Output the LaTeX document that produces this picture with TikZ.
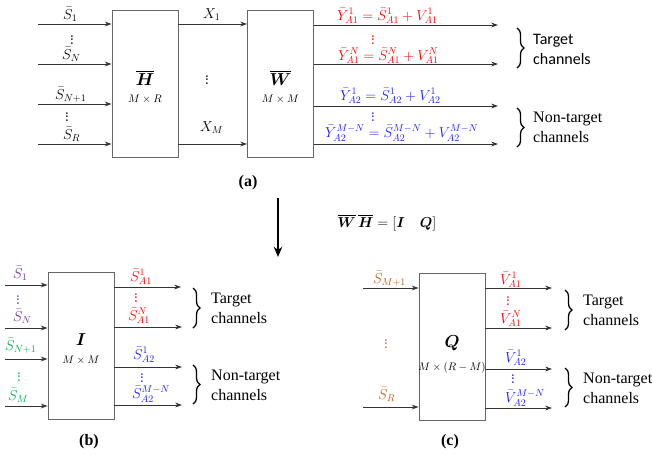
\documentclass[tikz,border=0pt]{standalone}
\usepackage{amsmath,amssymb}
\usepackage{fontspec}
\newfontfamily\calfont{Carlito}
\newfontfamily\tnrfont{Liberation Serif}
\usepackage{tikz}
\usetikzlibrary{arrows.meta,decorations.pathreplacing}
\definecolor{tgt}{HTML}{FF0000}
\definecolor{ntg}{HTML}{1C1CFF}
\definecolor{srcA}{HTML}{7030A0}
\definecolor{srcB}{HTML}{00B050}
\definecolor{srcC}{HTML}{C55A11}
\newcommand{\mtx}[1]{\boldsymbol{#1}}
\newcommand{\Sbar}{\bar{S}}
\newcommand{\Ybar}{\bar{Y}}
\newcommand{\Vbar}{\bar{V}}
% three stacked dots, no extra space above them
\newcommand{\vdotz}{\vbox{\baselineskip3.6pt\lineskiplimit0pt\hbox{.}\hbox{.}\hbox{.}}}
\tikzset{
  sigarr/.style   = {-{Stealth[length=2.4mm,width=1.7mm]},line width=1pt,black!80},
  mtxbox/.style   = {draw,black!60,line width=0.9pt,minimum width=66pt,minimum height=147pt,inner sep=0pt},
  mlab/.style     = {anchor=base west,inner sep=0pt,font=\fontsize{14}{16}\selectfont},
  dotlab/.style   = {inner sep=0pt,font=\bfseries\fontsize{12}{14}\selectfont},
  boxname/.style  = {inner sep=0pt,font=\fontsize{16}{18}\selectfont},
  dimlab/.style   = {inner sep=0pt,font=\fontsize{11}{13}\selectfont},
  grpbrace/.style = {decorate,decoration={brace,amplitude=7pt},line width=1.3pt},
  grptext/.style  = {anchor=west,align=left,inner sep=0pt,font=\tnrfont\fontsize{16}{20}\selectfont},
  subcap/.style   = {inner sep=0pt,font=\tnrfont\bfseries\fontsize{16}{18}\selectfont}
}

\begin{document}
\begin{tikzpicture}[x=1pt,y=-1pt]
  \useasboundingbox (0,0) rectangle (652,456);
  % (a) the whole chain: sources -> H -> W -> outputs
  \node[mtxbox] (H) at (145,84)   {};
  \node[mtxbox] (W) at (280.5,84) {};
  \node[boxname] (Hn) at (145,78) {$\overline{\mtx{H}}$};
  \node[dimlab]  (Hd) at (145,99) {$M\times R$};
  \node[boxname] (Wn) at (280.5,78) {$\overline{\mtx{W}}$};
  \node[dimlab]  (Wd) at (280.5,99) {$M\times M$};
  \coordinate (ha1) at (38,24);
  \coordinate (ha2) at (38,64);
  \coordinate (ha3) at (38,104);
  \coordinate (ha4) at (38,144);
  \draw[sigarr] (ha1) -- (ha1 -| H.west);
  \draw[sigarr] (ha2) -- (ha2 -| H.west);
  \draw[sigarr] (ha3) -- (ha3 -| H.west);
  \draw[sigarr] (ha4) -- (ha4 -| H.west);
  \node[mlab]   (sa1)  at (63,19)  {$\Sbar_1$};
  \node[dotlab] (sad1) at (72,40)  {\vdotz};
  \node[mlab]   (saN)  at (62,59)  {$\Sbar_N$};
  \node[mlab]   (saN1) at (55,99)  {$\Sbar_{N+1}$};
  \node[dotlab] (sad2) at (67,117) {\vdotz};
  \node[mlab]   (saR)  at (63,139) {$\Sbar_R$};
  \draw[sigarr] (H.east |- ha1) -- (W.west |- ha1);
  \draw[sigarr] (H.east |- ha4) -- (W.west |- ha4);
  \node[mlab]   (x1) at (203,18)  {$X_1$};
  \node[dotlab] (xd) at (207,80)  {\vdotz};
  \node[mlab]   (xM) at (200,131) {$X_M$};
  \coordinate (wa1) at (498,25);
  \coordinate (wa2) at (498,64);
  \coordinate (wa3) at (498,106);
  \coordinate (wa4) at (498,144);
  \draw[sigarr] (W.east |- wa1) -- (wa1);
  \draw[sigarr] (W.east |- wa2) -- (wa2);
  \draw[sigarr] (W.east |- wa3) -- (wa3);
  \draw[sigarr] (W.east |- wa4) -- (wa4);
  \node[mlab,tgt]   (ya1)  at (337,20)  {$\Ybar^1_{A1}=\Sbar^1_{A1}+V^1_{A1}$};
  \node[dotlab,tgt] (yad1) at (373,40)  {\vdotz};
  \node[mlab,tgt]   (yaN)  at (338,60)  {$\Ybar^N_{A1}=\Sbar^N_{A1}+V^N_{A1}$};
  \node[mlab,ntg]   (ya2)  at (340,100) {$\Ybar^1_{A2}=\Sbar^1_{A2}+V^1_{A2}$};
  \node[dotlab,ntg] (yad2) at (373,117) {\vdotz};
  \node[mlab,ntg]   (yaMN) at (325,137) {$\Ybar^{M-N}_{A2}=\Sbar^{M-N}_{A2}+V^{M-N}_{A2}$};
  \draw[grpbrace] (517,28) -- (517,68);
  \draw[grpbrace] (517,108) -- (517,147);
  \node[grptext,font=\calfont\fontsize{16}{20}\selectfont] (tga) at (533,49) {Target\\channels};
  \node[grptext] (nta) at (533,127) {Non-target\\channels};
  \node[subcap] (capa) at (248,183) {(a)};
  % the product W H splits into I and Q
  \coordinate (dn1) at (278,198);
  \coordinate (dn2) at (278,257);
  \draw[line width=2.5pt,-{Stealth[length=3.6mm,width=3mm]}] (dn1) -- (dn2);
  \node[boxname,font=\fontsize{15}{17}\selectfont] (eq) at (387,223)
    {$\overline{\mtx{W}}\,\overline{\mtx{H}}=[\mtx{I}\quad\mtx{Q}]$};
  % (b) identity part
  \node[mtxbox] (I) at (81,345.5) {};
  \node[boxname] (In) at (81,340) {$\mtx{I}$};
  \node[dimlab]  (Id) at (81,360) {$M\times M$};
  \coordinate (ib1) at (5,285);
  \coordinate (ib2) at (5,328);
  \coordinate (ib3) at (5,359);
  \coordinate (ib4) at (5,406);
  \draw[sigarr] (ib1) -- (ib1 -| I.west);
  \draw[sigarr] (ib2) -- (ib2 -| I.west);
  \draw[sigarr] (ib3) -- (ib3 -| I.west);
  \draw[sigarr] (ib4) -- (ib4 -| I.west);
  \node[mlab,srcA]   (sb1)  at (13,278) {$\Sbar_1$};
  \node[dotlab,srcA] (sbd1) at (18,300) {\vdotz};
  \node[mlab,srcA]   (sbN)  at (13,321) {$\Sbar_N$};
  \node[mlab,srcB]   (sbN1) at (5,350)  {$\Sbar_{N+1}$};
  \node[dotlab,srcB] (sbd2) at (19,377) {\vdotz};
  \node[mlab,srcB]   (sbM)  at (8,400)  {$\Sbar_M$};
  \coordinate (ob1) at (181,287);
  \coordinate (ob2) at (182,327);
  \coordinate (ob3) at (182,367);
  \coordinate (ob4) at (182,405);
  \draw[sigarr] (I.east |- ob1) -- (ob1);
  \draw[sigarr] (I.east |- ob2) -- (ob2);
  \draw[sigarr] (I.east |- ob3) -- (ob3);
  \draw[sigarr] (I.east |- ob4) -- (ob4);
  \node[mlab,tgt]   (yb1)  at (130,281) {$\Sbar^1_{A1}$};
  \node[dotlab,tgt] (ybd1) at (136,298) {\vdotz};
  \node[mlab,tgt]   (ybN)  at (128,320) {$\Sbar^N_{A1}$};
  \node[mlab,ntg]   (yb2)  at (133,359) {$\Sbar^1_{A2}$};
  \node[dotlab,ntg] (ybd2) at (142,378) {\vdotz};
  \node[mlab,ntg]   (ybMN) at (132,398) {$\Sbar^{M-N}_{A2}$};
  \draw[grpbrace] (193,288) -- (193,328);
  \draw[grpbrace] (193,365) -- (193,404);
  \node[grptext] (tgb) at (211,308) {Target\\channels};
  \node[grptext] (ntb) at (211,385) {Non-target\\channels};
  \node[subcap] (capb) at (89,442) {(b)};
  % (c) interference part
  \node[mtxbox] (Q) at (452,347) {};
  \node[boxname] (Qn) at (452,343) {$\mtx{Q}$};
  \node[dimlab]  (Qd) at (452,368) {$M\times(R-M)$};
  \coordinate (ic1) at (363,288);
  \coordinate (ic2) at (363,407);
  \draw[sigarr] (ic1) -- (ic1 -| Q.west);
  \draw[sigarr] (ic2) -- (ic2 -| Q.west);
  \node[mlab,srcC]   (sc1) at (373,283) {$\Sbar_{M+1}$};
  \node[dotlab,srcC] (scd) at (386,344) {\vdotz};
  \node[mlab,srcC]   (scR) at (378,399) {$\Sbar_R$};
  \coordinate (oc1) at (552,288);
  \coordinate (oc2) at (552,328);
  \coordinate (oc3) at (552,369);
  \coordinate (oc4) at (552,408);
  \draw[sigarr] (Q.east |- oc1) -- (oc1);
  \draw[sigarr] (Q.east |- oc2) -- (oc2);
  \draw[sigarr] (Q.east |- oc3) -- (oc3);
  \draw[sigarr] (Q.east |- oc4) -- (oc4);
  \node[mlab,tgt]   (vc1)  at (500,284) {$\Vbar^1_{A1}$};
  \node[dotlab,tgt] (vcd1) at (508,301) {\vdotz};
  \node[mlab,tgt]   (vcN)  at (500,323) {$\Vbar^N_{A1}$};
  \node[mlab,ntg]   (vc2)  at (505,362) {$\Vbar^1_{A2}$};
  \node[dotlab,ntg] (vcd2) at (513,379) {\vdotz};
  \node[mlab,ntg]   (vcMN) at (505,402) {$\Vbar^{M-N}_{A2}$};
  \draw[grpbrace] (565,290) -- (565,330);
  \draw[grpbrace] (565,368) -- (565,407);
  \node[grptext] (tgc) at (583,310) {Target\\channels};
  \node[grptext] (ntc) at (583,388) {Non-target\\channels};
  \node[subcap] (capc) at (450,442) {(c)};
\end{tikzpicture}
\end{document}
